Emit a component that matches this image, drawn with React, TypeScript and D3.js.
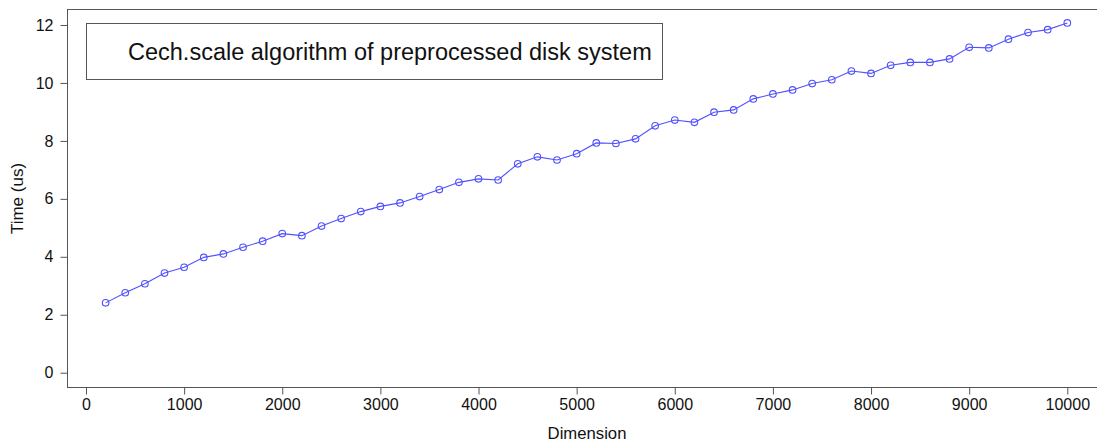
import { useEffect, useRef } from 'react'
import * as d3 from 'd3'

const dims = [
  200, 400, 600, 800, 1000, 1200, 1400, 1600, 1800, 2000,
  2200, 2400, 2600, 2800, 3000, 3200, 3400, 3600, 3800, 4000,
  4200, 4400, 4600, 4800, 5000, 5200, 5400, 5600, 5800, 6000,
  6200, 6400, 6600, 6800, 7000, 7200, 7400, 7600, 7800, 8000,
  8200, 8400, 8600, 8800, 9000, 9200, 9400, 9600, 9800, 10000
]
const times = [
  2.41, 2.76, 3.07, 3.44, 3.64, 3.98, 4.10, 4.33, 4.54, 4.80,
  4.73, 5.06, 5.32, 5.56, 5.74, 5.86, 6.08, 6.32, 6.57, 6.69,
  6.65, 7.21, 7.45, 7.34, 7.56, 7.93, 7.91, 8.07, 8.52, 8.72,
  8.64, 8.99, 9.07, 9.45, 9.62, 9.76, 9.98, 10.11, 10.41, 10.33,
  10.61, 10.71, 10.71, 10.83, 11.23, 11.21, 11.51, 11.74, 11.84, 12.07
]
const xTicks = [0, 1000, 2000, 3000, 4000, 5000, 6000, 7000, 8000, 9000, 10000]
const yTicks = [0, 2, 4, 6, 8, 10, 12]
const legendLabel = 'Cech.scale algorithm of preprocessed disk system'

const W = 1097
const H = 440
const FONT = '"Liberation Sans", Arial, sans-serif'

export default function App() {
  const svgRef = useRef<SVGSVGElement>(null)

  useEffect(() => {
    if (!svgRef.current) return
    const svg = d3.select(svgRef.current)
    svg.selectAll('*').remove()

    const frame = { left: 67.5, right: 1097.5, top: 9.5, bottom: 387.5 }

    const x = d3.scaleLinear().domain([0, 10000]).range([86, 1067.3])
    const y = d3.scaleLinear().domain([0, 12]).range([372.7, 25])

    // frame
    svg.append('rect')
      .attr('x', frame.left)
      .attr('y', frame.top)
      .attr('width', frame.right - frame.left)
      .attr('height', frame.bottom - frame.top)
      .attr('fill', 'none')
      .attr('stroke', '#555')
      .attr('stroke-width', 1)

    // x axis
    const xAxis = svg.append('g')
      .attr('transform', `translate(0, ${frame.bottom})`)
      .call(d3.axisBottom(x).tickValues(xTicks).tickSize(7).tickPadding(4).tickFormat(d => String(d)))
    xAxis.select('.domain').remove()
    xAxis.selectAll('line').attr('stroke', '#555')
    xAxis.selectAll('text')
      .attr('fill', '#111')
      .style('font-family', FONT)
      .style('font-size', '16px')

    // y axis
    const yAxis = svg.append('g')
      .attr('transform', `translate(${frame.left}, 0)`)
      .call(d3.axisLeft(y).tickValues(yTicks).tickSize(7).tickPadding(7).tickFormat(d => String(d)))
    yAxis.select('.domain').remove()
    yAxis.selectAll('line').attr('stroke', '#555')
    yAxis.selectAll('text')
      .attr('fill', '#111')
      .style('font-family', FONT)
      .style('font-size', '16px')

    // axis titles
    svg.append('text')
      .attr('x', 587)
      .attr('y', 439)
      .attr('text-anchor', 'middle')
      .style('font-family', FONT)
      .style('font-size', '16.7px')
      .attr('fill', '#111')
      .text('Dimension')

    svg.append('text')
      .attr('transform', `translate(22.5, ${(frame.top + frame.bottom) / 2}) rotate(-90)`)
      .attr('text-anchor', 'middle')
      .style('font-family', FONT)
      .style('font-size', '17px')
      .attr('fill', '#111')
      .text('Time (us)')

    // legend
    svg.append('rect')
      .attr('x', 86.5)
      .attr('y', 23.5)
      .attr('width', 576)
      .attr('height', 56)
      .attr('fill', 'white')
      .attr('stroke', '#555')

    svg.append('text')
      .attr('x', 128)
      .attr('y', 60)
      .style('font-family', FONT)
      .style('font-size', '23.5px')
      .attr('fill', '#111')
      .text(legendLabel)

    // series
    const pts = dims.map((d, i) => [d, times[i]] as [number, number])
    const line = d3.line<[number, number]>()
      .x(d => x(d[0]))
      .y(d => y(d[1]))

    svg.append('path')
      .datum(pts)
      .attr('fill', 'none')
      .attr('stroke', '#5050ff')
      .attr('stroke-width', 1.1)
      .attr('d', line)

    svg.append('g')
      .selectAll('circle')
      .data(pts)
      .join('circle')
      .attr('cx', d => x(d[0]))
      .attr('cy', d => y(d[1]))
      .attr('r', 3.3)
      .attr('fill', 'none')
      .attr('stroke', '#5050ff')
      .attr('stroke-width', 1.1)
  }, [])

  return (
    <svg
      ref={svgRef}
      width={W}
      height={H}
      style={{ position: 'absolute', left: 0, top: 0, background: 'white' }}
    />
  )
}
